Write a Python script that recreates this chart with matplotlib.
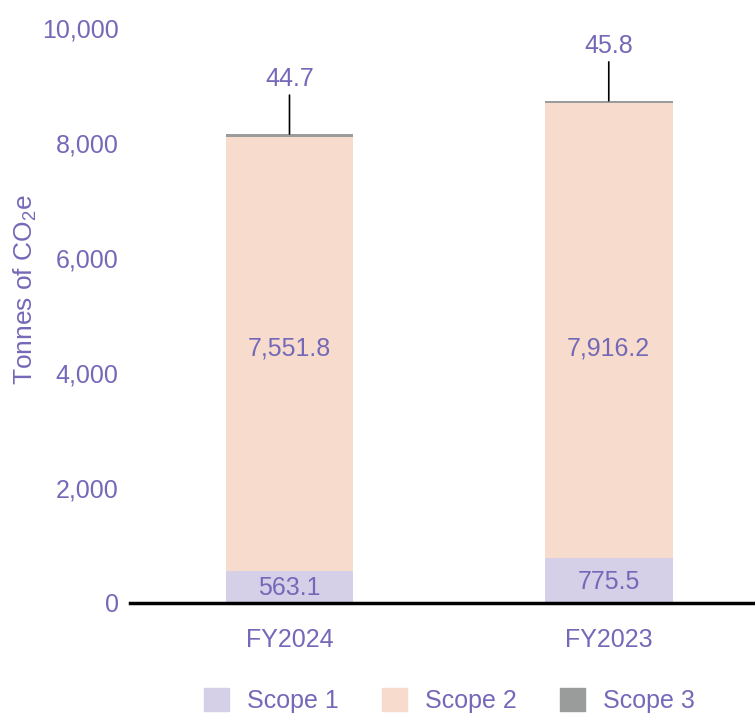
import numpy as np
import matplotlib
matplotlib.use("Agg")
import matplotlib.pyplot as plt
from matplotlib.patches import Patch

# Data
years = ["FY2024", "FY2023"]
scope1 = [563.1, 775.5]
scope2 = [7551.8, 7916.2]
scope3 = [44.7, 45.8]

purple = "#7469b8"
c1 = "#d5d0e7"
c2 = "#f7dccd"
c3 = "#9a9c9b"

plt.rcParams['font.family'] = ['Liberation Sans', 'DejaVu Sans']
plt.rcParams['mathtext.default'] = 'regular'

fig = plt.figure(figsize=(7.55, 7.14), dpi=100)
ax = fig.add_axes([0.172, 0.1555, 0.828, 0.805])

x = np.arange(len(years))
w = 0.4
ax.bar(x, scope1, w, color=c1, zorder=2)
ax.bar(x, scope2, w, bottom=scope1, color=c2, zorder=2)
bottom3 = np.array(scope1) + np.array(scope2)
ax.bar(x, scope3, w, bottom=bottom3, color=c3, zorder=2)

fs = 18
label_y2 = 4420  # scope 2 labels sit at a common height
for i in range(len(years)):
    ax.text(x[i], scope1[i] / 2 - 20, f"{scope1[i]:,.1f}", ha="center", va="center",
            color=purple, fontsize=fs, zorder=3)
    ax.text(x[i], label_y2, f"{scope2[i]:,.1f}", ha="center", va="center",
            color=purple, fontsize=fs, zorder=3)
    top = bottom3[i] + scope3[i]
    ax.annotate("", xy=(x[i], top), xytext=(0, 28), textcoords="offset points",
                arrowprops=dict(arrowstyle="-", color="black", lw=1.2, shrinkA=0, shrinkB=0))
    ax.annotate(f"{scope3[i]:,.1f}", xy=(x[i], top), xytext=(0, 31), textcoords="offset points",
                ha="center", va="bottom", color=purple, fontsize=fs)

ax.set_xlim(-0.5, 1.458)
ax.set_ylim(0, 10000)
ax.set_yticks([0, 2000, 4000, 6000, 8000, 10000])
ax.set_yticklabels([f"{v:,}" for v in [0, 2000, 4000, 6000, 8000, 10000]])
ax.set_xticks(x)
ax.set_xticklabels(years)
ax.tick_params(axis="both", length=0, labelsize=fs, labelcolor=purple)
ax.tick_params(axis="y", pad=8)
ax.tick_params(axis="x", pad=18)

for s in ["top", "right", "left"]:
    ax.spines[s].set_visible(False)
ax.spines["bottom"].set_linewidth(2.5)
ax.spines["bottom"].set_color("black")
ax.spines["bottom"].set_zorder(4)

ax.set_ylabel("Tonnes of CO$_{2}$e", color=purple, fontsize=fs + 1)
ax.yaxis.set_label_coords(-0.145, 0.545)

handles = [Patch(color=c1, label="Scope 1"), Patch(color=c2, label="Scope 2"),
           Patch(color=c3, label="Scope 3")]
leg = fig.legend(handles=handles, loc="lower center", bbox_to_anchor=(0.595, -0.03), ncol=3,
                 frameon=False, fontsize=fs, handlelength=1.0, handleheight=1.0,
                 columnspacing=1.75, handletextpad=0.7)
for t in leg.get_texts():
    t.set_color(purple)

fig.savefig("out.png", dpi=100)
